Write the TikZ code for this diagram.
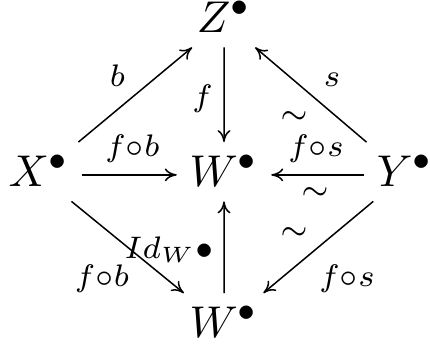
\documentclass[tikz,border=0pt]{standalone}
\usetikzlibrary{cd,arrows.meta}
\begin{document}
\begin{tikzpicture}[x=1pt,y=-1pt,
  every node/.style={font=\normalsize, scale=4.45, transform shape},
  obj/.style={shape=asymmetrical rectangle, commutative diagrams/center yshift=2.25pt,
    text height=6.97pt, text depth=0.56pt, inner xsep=2.7pt, inner ysep=2.7pt, anchor=center},
  lab/.style={inner sep=0pt, anchor=base},
  arr/.style={line width=1.5pt, -{Computer Modern Rightarrow[length=12pt,width=13pt]}}
]
\useasboundingbox (0,0) rectangle (430,347);
\node[obj] (Z) at (224,22) {$Z^\bullet$};
\node[obj] (W) at (224,176) {$W^\bullet$};
\node[obj] (X) at (39,176) {$X^\bullet$};
\node[obj] (Y) at (405,176) {$Y^\bullet$};
\node[obj] (Wb) at (224,327) {$W^\bullet$};
\draw[arr] (X) -- (Z);
\draw[arr] (Z) -- (W);
\draw[arr] (Y) -- (Z);
\draw[arr] (X) -- (W);
\draw[arr] (Y) -- (W);
\draw[arr] (Wb) -- (W);
\draw[arr] (X) -- (Wb);
\draw[arr] (Y) -- (Wb);
\node[lab] (lb) at (117.5,87) {$\scriptstyle b$};
\node[lab] (lf) at (202.5,107) {$\scriptstyle f$};
\node[lab] (lfb1) at (132.5,157) {$\scriptstyle f\circ b$};
\node[lab] (ls) at (332,87) {$\scriptstyle s$};
\node[lab] (t1) at (294,124) {$\scriptstyle\sim$};
\node[lab] (lfs1) at (316,157) {$\scriptstyle f\circ s$};
\node[lab] (t2) at (315,200) {$\scriptstyle\sim$};
\node[lab] (t3) at (294,239) {$\scriptstyle\sim$};
\node[lab] (id) at (169,258) {$\scriptstyle Id_W\bullet$};
\node[lab] (lfb2) at (102,286) {$\scriptstyle f\circ b$};
\node[lab] (lfs2) at (347,286) {$\scriptstyle f\circ s$};
\end{tikzpicture}
\end{document}
